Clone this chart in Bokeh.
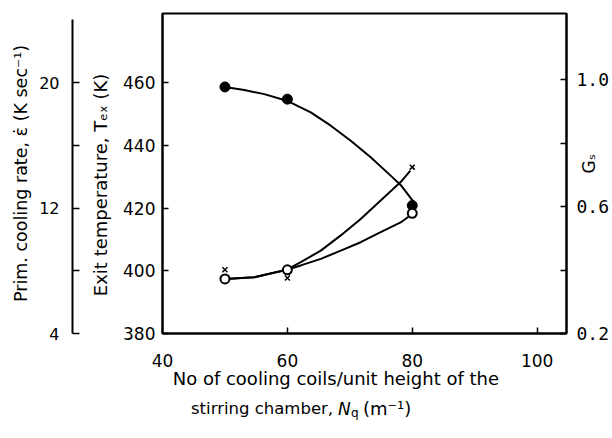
from math import pi
from bokeh.plotting import figure
from bokeh.layouts import column
from bokeh.models import LinearAxis, Range1d, FixedTicker, NumeralTickFormatter
from bokeh.core.properties import value
from bokeh.embed import file_html
from bokeh.resources import INLINE

# ---- data ----
nq_points = [50, 60, 80]
t_exit = [458.6, 454.7, 420.8]          # filled circles, exit temperature (K)
cool_rate = [7.48, 8.06, 11.66]         # open circles, primary cooling rate (K/s)
g_s = [0.401, 0.375, 0.724]             # crosses, G_s

t_curve_x = [50, 53.1, 56.3, 59.9, 63.75, 66.95, 70.15, 73.34, 76.54, 78.14, 80.27, 80.5]
t_curve_y = [458.6, 457.6, 456.3, 454.2, 450.48, 446.24, 441.46, 436.15, 430.32, 427.36, 421.82, 420.8]
rate_curve_x = [50, 54.7, 59.9, 62.15, 65.35, 68.55, 71.74, 74.94, 78.14, 80.0]
rate_curve_y = [7.48, 7.58, 8.06, 8.34, 8.76, 9.28, 9.82, 10.46, 11.08, 11.62]
gs_curve_x = [50, 54.7, 59.9, 62.15, 65.35, 68.55, 71.74, 74.94, 78.14, 79.7]
gs_curve_y = [0.372, 0.377, 0.401, 0.425, 0.461, 0.509, 0.561, 0.619, 0.677, 0.713]

x_ticks = [40, 60, 80, 100]
t_ticks = [380, 400, 420, 440, 460]
rate_major = [4, 12, 20]
rate_minor = [8, 16]
gs_major = [0.2, 0.6, 1.0]
gs_minor = [0.4, 0.8]

FONT = "DejaVu Sans"
NB = "\u00a0"

TOP_H = 392
FRAME_L, FRAME_R = 161, 566
p = figure(width=612, height=TOP_H, x_range=Range1d(40, 104.7), y_range=Range1d(380, 482),
           output_backend="svg", toolbar_location=None,
           min_border_left=FRAME_L, min_border_right=612 - FRAME_R, min_border_top=13,
           min_border_bottom=TOP_H - 333)
p.extra_y_ranges = {"rate": Range1d(4, 24.4), "gs": Range1d(0.2, 1.208)}
p.grid.visible = False
p.outline_line_color = "black"
p.outline_line_width = 2
p.background_fill_color = "white"
p.border_fill_color = "white"

def style(ax, size="17px", font=FONT):
    ax.axis_line_color = "black"
    ax.axis_line_width = 2
    ax.major_tick_line_color = "black"
    ax.major_tick_line_width = 1.5
    ax.minor_tick_line_color = "black"
    ax.minor_tick_line_width = 1.5
    ax.major_tick_out = 0
    ax.minor_tick_out = 0
    ax.major_tick_in = 6
    ax.minor_tick_in = 6
    ax.major_label_text_font = font
    ax.major_label_text_font_size = size
    ax.major_label_text_color = "black"
    ax.axis_label_text_font = FONT
    ax.axis_label_text_font_size = "16px"
    ax.axis_label_text_font_style = "normal"
    ax.axis_label_text_color = "black"

def spacer_axis(standoff, size="16px"):
    s = LinearAxis(y_range_name="rate", ticker=FixedTicker(ticks=[], minor_ticks=[]))
    s.axis_line_color = None
    s.major_tick_line_color = None
    s.minor_tick_line_color = None
    s.major_label_standoff = 0
    s.axis_label = NB
    s.axis_label_text_font_size = size
    s.axis_label_standoff = standoff
    return s

xa = p.xaxis[0]
style(xa)
xa.ticker = FixedTicker(ticks=x_ticks, minor_ticks=[])
xa.major_label_standoff = 20
xa.axis_label = "No of cooling coils/unit height of the" + NB * 10
xa.axis_label_text_font_size = "18px"
xa.axis_label_standoff = -2

ta = p.yaxis[0]
style(ta)
ta.ticker = FixedTicker(ticks=t_ticks, minor_ticks=[])
ta.major_label_standoff = 7
ta.major_label_orientation = "horizontal"
ta.axis_label = "Exit temperature, T\u2091\u2093 (K)" + NB * 4
ta.axis_label_text_font_size = "18px"
ta.axis_label_standoff = 9

p.add_layout(spacer_axis(-5), "left")

ra = LinearAxis(y_range_name="rate")
style(ra, size="16px")
ra.ticker = FixedTicker(ticks=rate_major, minor_ticks=rate_minor)
ra.bounds = (4, 24)
ra.major_tick_in = 7
ra.minor_tick_in = 7
ra.major_label_standoff = 13
ra.major_label_orientation = "horizontal"
ra.axis_label = "Prim. cooling rate, \u03b5\u0307 (K sec\u207b\u00b9)"
ra.axis_label_text_font_size = "17.5px"
ra.axis_label_standoff = 5
p.add_layout(ra, "left")

p.add_layout(spacer_axis(4, size="1px"), "left")

ga = LinearAxis(y_range_name="gs")
style(ga, size="18px", font="DejaVu Sans Mono")
ga.ticker = FixedTicker(ticks=gs_major, minor_ticks=gs_minor)
ga.formatter = NumeralTickFormatter(format="0.0")
ga.major_label_standoff = 10
ga.major_label_orientation = "horizontal"
ga.axis_label_text_font_size = "17px"
ga.axis_label_standoff = -23
ga.axis_label_orientation = pi / 2
ga.axis_label = "G\u209b"
p.add_layout(ga, "right")

# curves
p.line(t_curve_x, t_curve_y, line_color="black", line_width=2)
p.line(rate_curve_x, rate_curve_y, line_color="black", line_width=2, y_range_name="rate")
p.line(gs_curve_x, gs_curve_y, line_color="black", line_width=2, y_range_name="gs")

# markers
p.scatter(nq_points, t_exit, marker="circle", size=10, fill_color="black", line_color="black")
p.scatter(nq_points, cool_rate, marker="circle", size=9, fill_color="white", line_color="black",
          line_width=2, y_range_name="rate")
p.scatter(nq_points, g_s, marker="x", size=7, line_color="black", line_width=1.5, y_range_name="gs")

# ---- second line of the x-axis title, in a text strip below (page pixel coordinates) ----
BOT_H = 438 - TOP_H
q = figure(width=612, height=BOT_H, x_range=Range1d(FRAME_L, FRAME_R),
           y_range=Range1d(TOP_H + BOT_H, TOP_H),
           output_backend="svg", toolbar_location=None,
           x_axis_location=None, y_axis_location=None,
           min_border_left=FRAME_L, min_border_right=612 - FRAME_R,
           min_border_top=0, min_border_bottom=0)
q.grid.visible = False
q.outline_line_color = None
q.background_fill_color = "white"
q.border_fill_color = "white"

def txt(s, x, y, size="16px", align="left", style_="normal"):
    q.text(x=[x], y=[y - 5], text=[s], text_font=value(FONT), text_font_size=value(size),
           text_font_style=style_, text_align=align, text_baseline="alphabetic", text_color="black")

txt("stirring chamber,", 332, 413, size="16.5px", align="right")
txt("N", 337, 413, size="17px", style_="italic")
txt("q", 350, 417, size="12px")
txt("(m\u207b\u00b9)", 362, 413, size="18px")

layout = column(p, q, spacing=0)
open("out.html", "w").write(file_html(layout, INLINE))
